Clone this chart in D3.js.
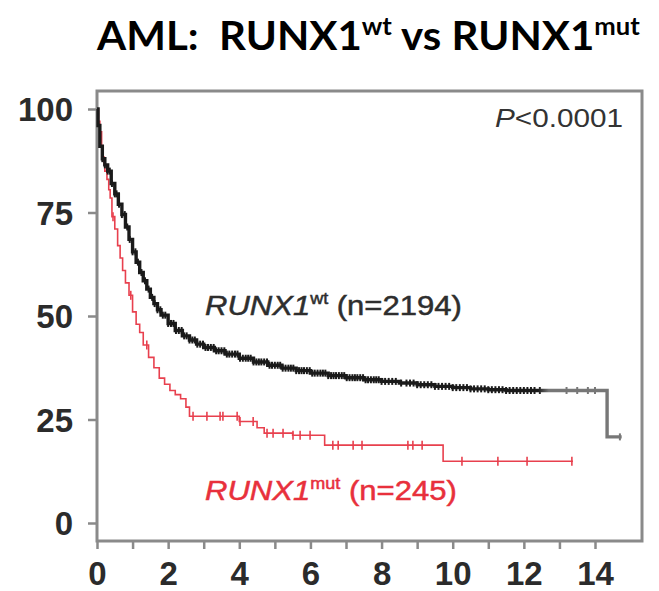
<!DOCTYPE html>
<meta charset="utf-8">
<style>
  body { margin: 0; padding: 0; background: #fff; }
  svg { display: block; background: #fff; }
</style>
<script src="https://d3js.org/d3.v7.min.js"></script>
<svg id="vis"></svg>
<script>

var width = 659, height = 591;

// RUNX1 wild type (n=2194): step times (years) and survival (%)
const wtTime = [0, 0.03, 0.08, 0.15, 0.22, 0.3, 0.4, 0.5, 0.6, 0.7, 0.8, 0.9, 1.0, 1.1, 1.2, 1.3, 1.4, 1.5, 1.6, 1.7, 1.8, 2.0, 2.2, 2.4, 2.6, 2.8, 3.0, 3.3, 3.6, 4.0, 4.4, 4.8, 5.2, 5.6, 6.0, 6.5, 7.0, 7.5, 8.0, 8.5, 9.0, 9.5, 10.0, 10.5, 11.0, 11.5, 14.34, 14.75];
const wtSurv = [100, 96, 91, 88, 86.5, 85, 82, 79.5, 77, 74.5, 71.5, 68.5, 65.5, 63, 60.5, 58.5, 56.5, 54.5, 53, 51.5, 50.2, 48.2, 46.5, 45.2, 44.2, 43.2, 42.4, 41.6, 40.8, 39.8, 38.9, 38.1, 37.4, 36.8, 36.2, 35.6, 35.1, 34.6, 34.2, 33.8, 33.4, 33.0, 32.7, 32.4, 32.2, 32.0, 20.8, 20.8];
const wtCens = [0.15, 0.22, 0.3, 0.36, 0.42, 0.5, 0.55, 0.62, 0.7, 0.78, 0.85, 0.92, 1.0, 1.08, 1.15, 1.25, 1.35, 1.45, 1.55, 1.62, 1.7, 1.78, 1.85, 1.92, 2.0, 2.08, 2.15, 2.22, 2.3, 2.38, 2.45, 2.52, 2.6, 2.68, 2.75, 2.82, 2.9, 2.98, 3.05, 3.12, 3.2, 3.28, 3.35, 3.42, 3.5, 3.58, 3.65, 3.72, 3.8, 3.88, 3.95, 4.02, 4.1, 4.18, 4.25, 4.32, 4.4, 4.48, 4.55, 4.62, 4.7, 4.78, 4.85, 4.92, 5.0, 5.08, 5.15, 5.22, 5.3, 5.38, 5.45, 5.52, 5.6, 5.68, 5.75, 5.82, 5.9, 5.98, 6.05, 6.12, 6.2, 6.28, 6.35, 6.42, 6.5, 6.58, 6.65, 6.72, 6.8, 6.88, 6.95, 7.02, 7.1, 7.18, 7.25, 7.32, 7.4, 7.48, 7.55, 7.62, 7.7, 7.78, 7.85, 7.92, 8.0, 8.1, 8.2, 8.3, 8.4, 8.55, 8.7, 8.8, 8.9, 9.0, 9.1, 9.2, 9.3, 9.4, 9.5, 9.6, 9.7, 9.8, 9.9, 10.0, 10.1, 10.2, 10.3, 10.4, 10.5, 10.6, 10.7, 10.8, 10.9, 11.0, 11.1, 11.2, 11.3, 11.4, 11.5, 11.6, 11.7, 11.8, 11.9, 12.0, 12.1, 12.2, 12.3, 12.45, 13.2, 13.5, 13.8, 14.0, 14.7];

// RUNX1 mutated (n=245)
const mutTime = [0, 0.04, 0.08, 0.13, 0.17, 0.22, 0.28, 0.33, 0.37, 0.42, 0.5, 0.58, 0.65, 0.72, 0.8, 0.9, 1.0, 1.1, 1.2, 1.3, 1.45, 1.6, 1.75, 1.9, 2.05, 2.2, 2.35, 2.5, 2.6, 4.0, 4.5, 4.7, 5.5, 6.4, 9.73, 13.38];
const mutSurv = [100, 97, 94.5, 91, 87.5, 85, 83, 80.5, 78.5, 74, 71, 67, 64, 61, 58, 55, 51, 48, 46, 43, 40, 37.5, 35, 33.5, 32, 31, 30, 28, 25.8, 24.5, 23, 21.7, 21.2, 18.8, 14.9, 14.9];
const mutCens = [0.08, 0.2, 0.45, 0.95, 1.4, 2.7, 3.09, 3.46, 3.54, 3.94, 4.02, 4.39, 4.78, 4.95, 5.23, 5.51, 5.71, 5.99, 6.63, 6.78, 7.2, 7.45, 8.74, 8.88, 9.14, 10.26, 11.27, 12.09, 13.35];

const yTicks = [0, 25, 50, 75, 100];
const xTicks = d3.range(0, 15);
const xLabels = [0, 2, 4, 6, 8, 10, 12, 14];

var svg = d3.select("svg").attr("width", width).attr("height", height);

var x = d3.scaleLinear().domain([0, 14]).range([97, 595]);
var y = d3.scaleLinear().domain([0, 100]).range([523, 109]);

var frame = {left: 97, right: 642, top: 91, bottom: 541};

// the wt line fades to grey in its sparse tail
var grad = svg.append("defs").append("linearGradient")
  .attr("id", "wtfade").attr("gradientUnits", "userSpaceOnUse")
  .attr("x1", x(12.4)).attr("x2", x(12.7)).attr("y1", 0).attr("y2", 0);
grad.append("stop").attr("offset", 0).attr("stop-color", "#1a1a1a");
grad.append("stop").attr("offset", 1).attr("stop-color", "#777");

// axes
var yAxis = d3.axisLeft(y).tickValues(yTicks).tickSize(9).tickPadding(15);
var xAxis = d3.axisBottom(x).tickValues(xTicks).tickSize(8).tickPadding(12)
  .tickFormat(d => xLabels.includes(d) ? d : "");

var gy = svg.append("g").attr("transform", "translate(" + frame.left + ",0)").call(yAxis);
var gx = svg.append("g").attr("transform", "translate(0," + frame.bottom + ")").call(xAxis);

[gx, gy].forEach(g => {
  g.select(".domain").remove();
  g.selectAll(".tick line").attr("stroke", "#8a8a8a").attr("stroke-width", 2.5);
  g.selectAll(".tick text")
    .attr("fill", "#2b2b2b")
    .attr("font-family", "Liberation Sans, Arial, sans-serif")
    .attr("font-weight", "bold")
    .attr("font-size", 33);
});
gy.selectAll(".tick text").attr("dy", "0.36em");
gx.selectAll(".tick text").attr("dy", "0.74em");

// frame
svg.append("rect")
  .attr("x", frame.left).attr("y", frame.top)
  .attr("width", frame.right - frame.left).attr("height", frame.bottom - frame.top)
  .attr("fill", "none").attr("stroke", "#8a8a8a").attr("stroke-width", 3);

var line = d3.line().curve(d3.curveStepAfter).x(d => x(d[0])).y(d => y(d[1]));

function survAt(times, surv, t) {
  var i = d3.bisectRight(times, t) - 1;
  return surv[Math.max(0, i)];
}

function drawCurve(times, surv, cens, color, lw, th, tw) {
  var pts = times.map((t, i) => [t, surv[i]]);
  svg.append("path").datum(pts)
    .attr("d", line)
    .attr("fill", "none")
    .attr("stroke", color)
    .attr("stroke-width", lw);
  svg.append("g").selectAll("line")
    .data(cens)
    .enter().append("line")
      .attr("x1", d => x(d)).attr("x2", d => x(d))
      .attr("y1", d => y(survAt(times, surv, d)) - th)
      .attr("y2", d => y(survAt(times, surv, d)) + th)
      .attr("stroke", color)
      .attr("stroke-width", tw);
}

drawCurve(mutTime, mutSurv, mutCens, "#e8404e", 1.6, 4.5, 1.6);
drawCurve(wtTime, wtSurv, wtCens, "url(#wtfade)", 3.4, 3.5, 2);

// text helpers: fit to a measured width from the picture
function fitText(sel, x0, x1) {
  var w = sel.node().getComputedTextLength();
  var k = (x1 - x0) / w;
  var yb = +sel.attr("y");
  sel.attr("x", 0).attr("y", 0)
    .attr("transform", "translate(" + x0 + "," + yb + ") scale(" + k + ",1)");
}

// P value
var p = svg.append("text")
  .attr("y", 127)
  .attr("font-family", "Liberation Sans, Arial, sans-serif")
  .attr("font-size", 26)
  .attr("fill", "#333");
p.append("tspan").attr("font-style", "italic").text("P");
p.append("tspan").text("<0.0001");
fitText(p, 495, 623);

function groupLabel(yb, sup, rest, color, x0, x1, fs) {
  var t = svg.append("text")
    .attr("y", yb)
    .attr("font-family", "Liberation Sans, Arial, sans-serif")
    .attr("font-size", fs)
    .attr("fill", color)
    .attr("stroke", color)
    .attr("stroke-width", 0.5);
  t.append("tspan").attr("font-style", "italic").text("RUNX1");
  t.append("tspan").attr("font-size", fs * 0.58).attr("dy", -fs * 0.38).text(sup);
  t.append("tspan").attr("dy", fs * 0.38).text(" " + rest);
  fitText(t, x0, x1);
}
groupLabel(315, "wt", "(n=2194)", "#2e2e2e", 205, 462, 28);
groupLabel(500, "mut", "(n=245)", "#e8303c", 205, 457, 28);

// title
var title = svg.append("text")
  .attr("y", 50)
  .attr("font-family", "Lato, 'Open Sans', sans-serif")
  .attr("font-weight", "bold")
  .attr("font-size", 41)
  .attr("fill", "#000");
title.append("tspan").text("AML:\u00a0\u00a0RUNX1");
title.append("tspan").attr("font-size", 25).attr("dy", -15).text("wt");
title.append("tspan").attr("dy", 15).text(" vs RUNX1");
title.append("tspan").attr("font-size", 25).attr("dy", -15).text("mut");
fitText(title, 97, 640);

</script>
